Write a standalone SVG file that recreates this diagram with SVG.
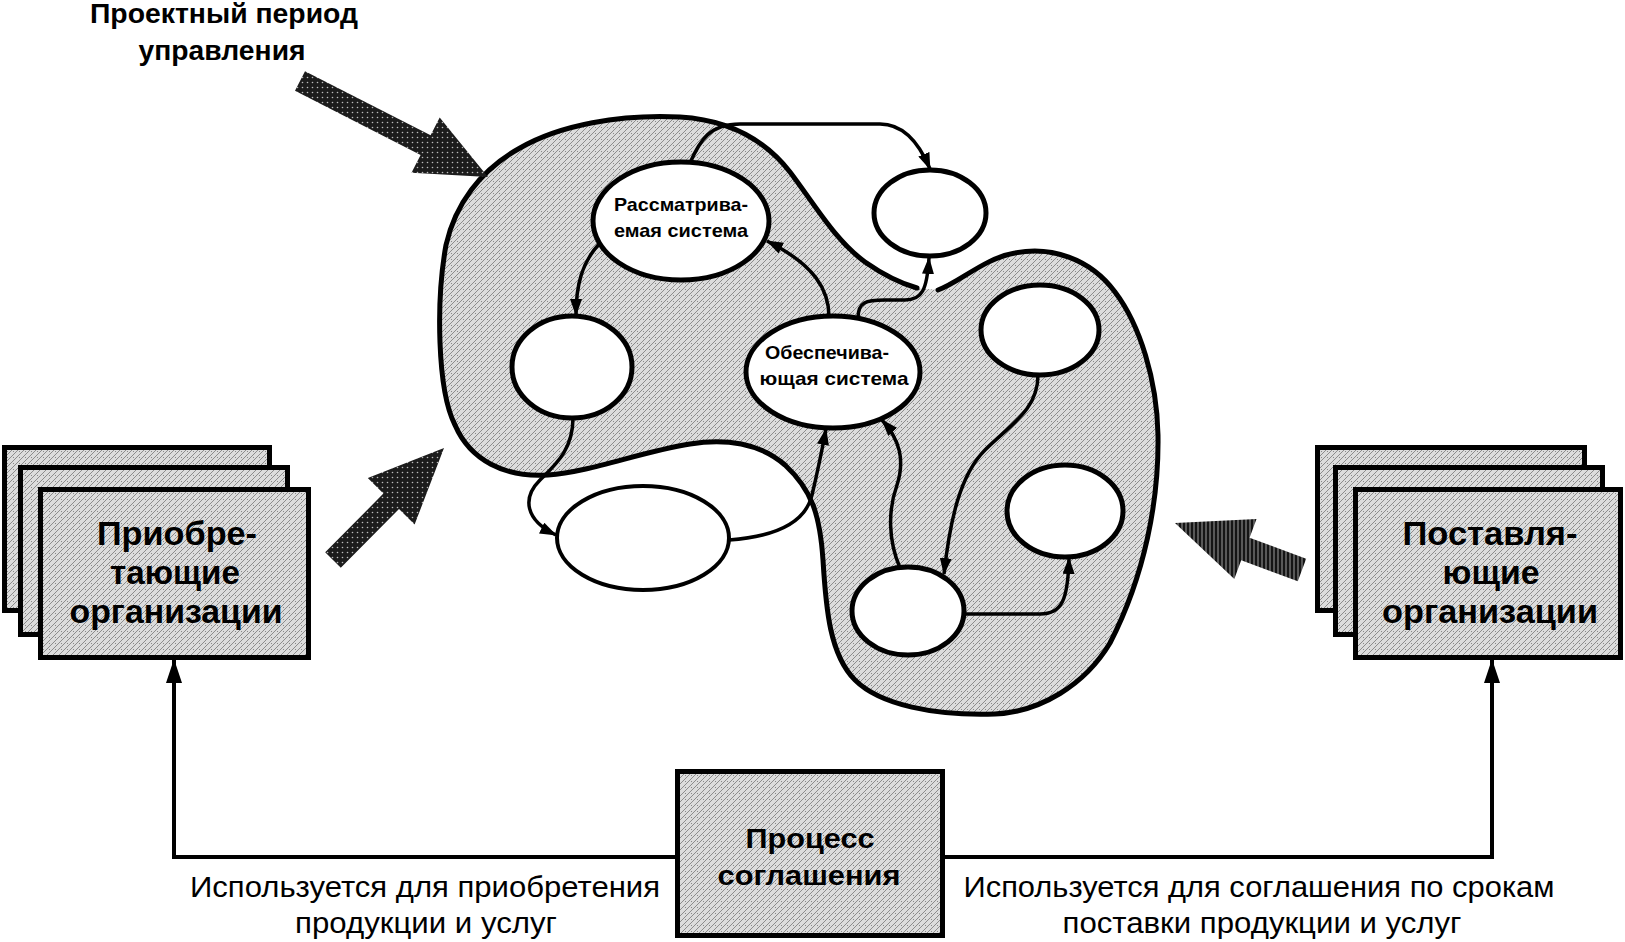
<svg xmlns="http://www.w3.org/2000/svg" width="1625" height="942" viewBox="0 0 1625 942">
<defs>
<pattern id="stip" width="6" height="6" patternUnits="userSpaceOnUse">
<rect width="6" height="6" fill="#dcdcdc"/>
<path d="M0,6 L6,0" stroke="#555" stroke-width="0.6"/>
<circle cx="1.5" cy="1.5" r="0.45" fill="#333"/>
</pattern>
<pattern id="dark" width="5" height="5" patternUnits="userSpaceOnUse">
<rect width="5" height="5" fill="#1c1c1c"/>
<circle cx="2.5" cy="2.5" r="0.8" fill="#bbb"/>
</pattern>
<pattern id="vstripe" width="4" height="4" patternUnits="userSpaceOnUse">
<rect width="4" height="4" fill="#151515"/>
<path d="M2,0 L2,4" stroke="#aaa" stroke-width="0.9"/>
</pattern>
<marker id="ah" markerUnits="userSpaceOnUse" markerWidth="17" markerHeight="12" refX="16" refY="6" orient="auto">
<path d="M0,0 L17,6 L0,12 z" fill="#000"/>
</marker>
<marker id="ahb" markerUnits="userSpaceOnUse" markerWidth="24" markerHeight="16" refX="23" refY="8" orient="auto">
<path d="M0,0 L24,8 L0,16 z" fill="#000"/>
</marker>
</defs>
<style>
.blob{fill:url(#stip);stroke:none}
.outline{fill:none;stroke:#000;stroke-width:5;stroke-linejoin:round;stroke-linecap:round}
.ell{fill:#fff;stroke:#000;stroke-width:5}
.ell2{fill:#fff;stroke:#000;stroke-width:4}
.box{fill:url(#stip);stroke:#000;stroke-width:5}
.con{fill:none;stroke:#000;stroke-width:3.5;marker-end:url(#ah)}
.con2{fill:none;stroke:#000;stroke-width:4;marker-end:url(#ahb)}
.lbl{font-family:"Liberation Sans",Arial,sans-serif;fill:#000}
.big{font-size:33px;font-weight:bold}
.mid{font-size:28px;font-weight:bold}
.sm{font-size:19px;font-weight:bold}
.cap{font-size:29px}
</style>

<g id="blob">
<path class="blob" d="M 938,290 C 960,282 985,258 1015,253 C 1050,246 1090,258 1115,292 C 1140,325 1157,380 1158,435 C 1159,500 1145,575 1110,643 C 1085,685 1040,712 995,714 C 935,716 880,705 855,680 C 830,655 826,610 823,560 C 820,515 812,490 785,465 C 760,443 725,438 690,444 C 640,452 590,472 548,475 C 505,478 470,460 455,425 C 437,390 436,300 446,245 C 455,205 480,170 520,148 C 560,125 620,114 680,117 C 730,120 765,140 790,172 C 815,205 835,240 865,262 C 885,276 903,284 917,288 Z"/>
<path class="outline" d="M 938,290 C 960,282 985,258 1015,253 C 1050,246 1090,258 1115,292 C 1140,325 1157,380 1158,435 C 1159,500 1145,575 1110,643 C 1085,685 1040,712 995,714 C 935,716 880,705 855,680 C 830,655 826,610 823,560 C 820,515 812,490 785,465 C 760,443 725,438 690,444 C 640,452 590,472 548,475 C 505,478 470,460 455,425 C 437,390 436,300 446,245 C 455,205 480,170 520,148 C 560,125 620,114 680,117 C 730,120 765,140 790,172 C 815,205 835,240 865,262 C 885,276 903,284 917,288"/>
</g>

<g id="connectors">
<path class="con" d="M 690,163 C 700,140 710,124 740,124 L 880,124 C 905,124 920,145 930,169"/>
<path class="con" d="M 600,243 C 582,262 576,285 576,315"/>
<path class="con" d="M 829,317 C 829,290 815,265 767,241"/>
<path class="con" d="M 858,318 C 858,302 866,300 885,300 L 905,300 C 922,300 927,290 929,258"/>
<path class="con" d="M 573,418 C 573,450 555,465 540,480 C 522,498 525,520 556,535"/>
<path class="con" d="M 729,540 C 770,537 805,525 812,495 C 818,470 822,450 826,429"/>
<path class="con" d="M 900,568 C 888,540 888,510 897,485 C 905,460 900,440 882,420"/>
<path class="con" d="M 1038,375 C 1038,410 1010,425 985,450 C 960,475 950,520 944,574"/>
<path class="con" d="M 965,614 L 1040,614 C 1062,614 1068,600 1069,558"/>
<path class="con2" d="M 675,857 L 174,857 L 174,660"/>
<path class="con2" d="M 945,857 L 1492,857 L 1492,660"/>
</g>

<g id="ell-rassm">
<ellipse class="ell" cx="681" cy="221" rx="88" ry="59"/>
<text class="lbl sm" x="681" y="211" text-anchor="middle" textLength="134" lengthAdjust="spacingAndGlyphs">Рассматрива-</text>
<text class="lbl sm" x="681" y="237" text-anchor="middle" textLength="134" lengthAdjust="spacingAndGlyphs">емая система</text>
</g>
<g id="ell-topright"><ellipse class="ell" cx="930" cy="213" rx="56" ry="43"/></g>
<g id="ell-left"><ellipse class="ell" cx="572" cy="367" rx="60" ry="51"/></g>
<g id="ell-obesp">
<ellipse class="ell" cx="833" cy="372" rx="87" ry="56"/>
<text class="lbl sm" x="827" y="359" text-anchor="middle" textLength="124" lengthAdjust="spacingAndGlyphs">Обеспечива-</text>
<text class="lbl sm" x="834" y="385" text-anchor="middle" textLength="149" lengthAdjust="spacingAndGlyphs">ющая система</text>
</g>
<g id="ell-rightupper"><ellipse class="ell" cx="1040" cy="330" rx="59" ry="45"/></g>
<g id="ell-rightmid"><ellipse class="ell" cx="1065" cy="511" rx="58" ry="46"/></g>
<g id="ell-bottom"><ellipse class="ell" cx="908" cy="611" rx="56" ry="44"/></g>
<g id="ell-bottomleft"><ellipse class="ell2" cx="643" cy="538" rx="86" ry="52"/></g>

<g id="arrow-top"><polygon fill="url(#dark)" points="305,71.2 430.6,135.3 439.7,117.5 488,177 411.5,172.7 420.6,154.9 295,90.8"/></g>
<g id="arrow-left"><polygon fill="url(#dark)" points="325.2,552.3 383.4,493.6 367.8,478.1 444,448 414.6,524.5 399,509 340.8,567.7"/></g>
<g id="arrow-right"><polygon fill="url(#vstripe)" points="1306.2,558.7 1249.6,537.7 1256.5,519 1175,523 1234.3,579 1241.2,560.3 1297.8,581.3"/></g>

<g id="label-top">
<text class="lbl mid" x="224" y="23" text-anchor="middle" textLength="268" lengthAdjust="spacingAndGlyphs">Проектный период</text>
<text class="lbl mid" x="222" y="60" text-anchor="middle" textLength="167" lengthAdjust="spacingAndGlyphs">управления</text>
</g>

<g id="acquirers">
<rect class="box" x="4.5" y="447.5" width="265" height="163"/>
<rect class="box" x="20.5" y="467.5" width="267" height="167"/>
<rect class="box" x="40.5" y="489.5" width="268" height="168"/>
<text class="lbl big" x="177" y="545" text-anchor="middle" textLength="160" lengthAdjust="spacingAndGlyphs">Приобре-</text>
<text class="lbl big" x="175" y="584" text-anchor="middle" textLength="130" lengthAdjust="spacingAndGlyphs">тающие</text>
<text class="lbl big" x="176" y="623" text-anchor="middle" textLength="213" lengthAdjust="spacingAndGlyphs">организации</text>
</g>

<g id="suppliers">
<rect class="box" x="1317.5" y="447.5" width="267" height="163"/>
<rect class="box" x="1335.5" y="467.5" width="267" height="167"/>
<rect class="box" x="1355.5" y="489.5" width="265" height="168"/>
<text class="lbl big" x="1490" y="545" text-anchor="middle" textLength="175" lengthAdjust="spacingAndGlyphs">Поставля-</text>
<text class="lbl big" x="1491" y="584" text-anchor="middle" textLength="97" lengthAdjust="spacingAndGlyphs">ющие</text>
<text class="lbl big" x="1490" y="623" text-anchor="middle" textLength="216" lengthAdjust="spacingAndGlyphs">организации</text>
</g>

<g id="agreement">
<rect class="box" x="677.5" y="771.5" width="265" height="164"/>
<text class="lbl mid" x="810" y="848" text-anchor="middle" textLength="129" lengthAdjust="spacingAndGlyphs">Процесс</text>
<text class="lbl mid" x="809" y="885" text-anchor="middle" textLength="183" lengthAdjust="spacingAndGlyphs">соглашения</text>
</g>

<g id="label-left">
<text class="lbl cap" x="425" y="897" text-anchor="middle" textLength="470" lengthAdjust="spacingAndGlyphs">Используется для приобретения</text>
<text class="lbl cap" x="426" y="933" text-anchor="middle" textLength="262" lengthAdjust="spacingAndGlyphs">продукции и услуг</text>
</g>
<g id="label-right">
<text class="lbl cap" x="1259" y="897" text-anchor="middle" textLength="591" lengthAdjust="spacingAndGlyphs">Используется для соглашения по срокам</text>
<text class="lbl cap" x="1262" y="933" text-anchor="middle" textLength="399" lengthAdjust="spacingAndGlyphs">поставки продукции и услуг</text>
</g>
</svg>
